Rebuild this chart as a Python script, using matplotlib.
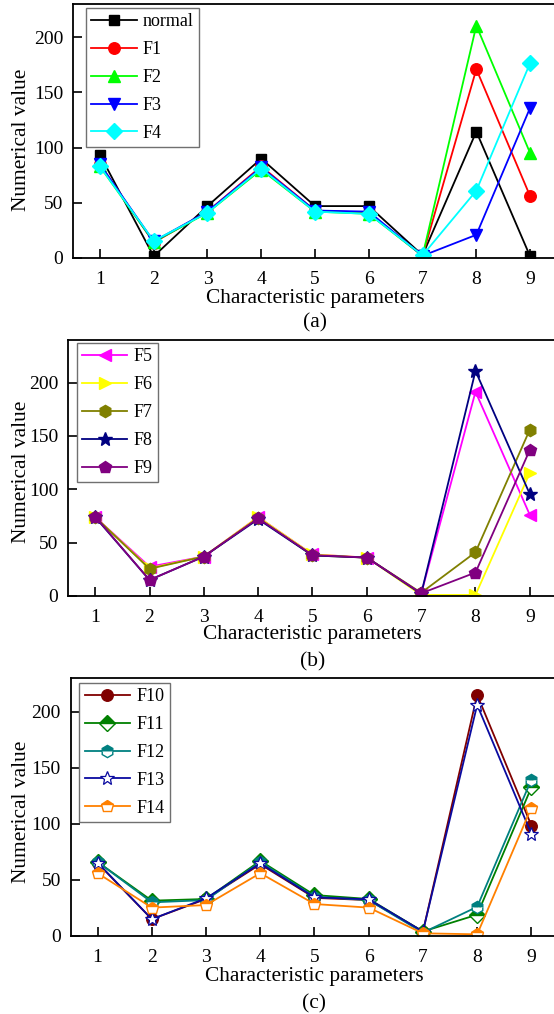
import matplotlib
matplotlib.use("Agg")
import matplotlib.pyplot as plt
from matplotlib.transforms import blended_transform_factory

plt.rcParams['font.family'] = ['Liberation Serif', 'DejaVu Serif']
plt.rcParams['font.size'] = 14

params = [1, 2, 3, 4, 5, 6, 7, 8, 9]
xtick_labels = ['1', '2', '3', '4', '5', '6', '7', '8', '9']
yticks = [0, 50, 100, 150, 200]

# Panel (a)
normal = [93.5, 1.5, 47, 90, 47, 47, 2.5, 114.5, 1.5]
f1 = [85, 14, 42, 83, 43, 41, 2, 171, 56]
f2 = [83, 14.5, 41, 80, 42, 40, 2, 210.5, 95]
f3 = [85, 15, 42, 82, 43, 42, 2, 21, 136]
f4 = [83, 15.5, 41, 81, 42, 40, 2.4, 61, 176.5]

# Panel (b)
f5 = [74, 27.5, 37, 74, 39, 36, 2, 191.5, 76]
f6 = [74, 26, 37, 74, 39, 36, 1, 1, 115.5]
f7 = [74, 25.5, 37, 73, 38, 36, 3, 41, 156]
f8 = [74, 15, 37, 72, 38, 36, 2, 211, 95.5]
f9 = [74.4, 15, 37, 72.8, 38.4, 36, 2.5, 22, 137]

# Panel (c)
f10 = [65, 15, 33, 64, 34, 32, 4, 215, 98.5]
f11 = [66, 31.5, 33, 67, 36.5, 33, 4, 19, 132.5]
f12 = [66, 30, 32, 66, 35, 32, 3, 26, 139.5]
f13 = [65.4, 15, 33.6, 64.8, 34.5, 32.7, 4, 206, 91]
f14 = [56, 25.3, 27.6, 56, 28.5, 25.3, 2.4, 1.5, 114.5]

W, H = 554, 1014
fig = plt.figure(figsize=(W / 100, H / 100), dpi=100)


def make_axes(left, top, bottom, right):
    return fig.add_axes([left / W, 1 - bottom / H, (right - left) / W, (bottom - top) / H])


def style(ax, ymax):
    ax.set_xlim(0.5, 9.5)
    ax.set_ylim(0, ymax)
    ax.set_xticks(params)
    ax.set_xticklabels(xtick_labels)
    ax.set_yticks(yticks)
    ax.tick_params(direction='in', length=6.5, width=1.2, labelsize=14)
    ax.tick_params(axis='x', pad=9)
    ax.tick_params(axis='y', pad=7)
    for s in ['left', 'bottom', 'top']:
        ax.spines[s].set_linewidth(1.3)
    ax.spines['right'].set_visible(False)


def labels(ax, letter, ylab_y, xl_y, let_y):
    tr = blended_transform_factory(ax.transData, ax.transAxes)
    ax.text(5, xl_y, 'Characteristic parameters', transform=tr, ha='center', va='center', fontsize=15.4)
    ax.text(5, let_y, letter, transform=tr, ha='center', va='center', fontsize=15.4)
    fig.text(22 / W, 1 - ylab_y / H, 'Numerical value', rotation=90, ha='center', va='center', fontsize=15.4)


def legend(ax, anchor):
    leg = ax.legend(loc='upper left', bbox_to_anchor=anchor, borderaxespad=0,
                    fancybox=False, framealpha=1, edgecolor='#707070',
                    handlelength=2.5, handletextpad=0.35, labelspacing=0.6,
                    borderpad=0.3, fontsize=13)
    leg.get_frame().set_linewidth(1.0)


lw = 1.3
ms = 8.3

# ---- (a)
axa = make_axes(73, 4, 258, 557)
style(axa, 230)
axa.plot(params, normal, color='black', marker='s', ms=7, lw=lw, label='normal')
axa.plot(params, f1, color='#FF0000', marker='o', ms=ms, lw=lw, label='F1')
axa.plot(params, f2, color='#00FF00', marker='^', ms=ms + 0.5, lw=lw, label='F2')
axa.plot(params, f3, color='#0000FF', marker='v', ms=ms + 0.5, lw=lw, label='F3')
axa.plot(params, f4, color='#00FFFF', marker='D', ms=ms - 0.5, lw=lw, label='F4')
legend(axa, (0.027, 0.984))
labels(axa, '(a)', 139.5, -0.161, -0.256)

# ---- (b)
axb = make_axes(68, 340, 596, 557)
style(axb, 240)
axb.plot(params, f5, color='#FF00FF', marker='<', ms=ms + 0.5, lw=lw, label='F5')
axb.plot(params, f6, color='#FFFF00', marker='>', ms=ms + 0.5, lw=lw, label='F6')
axb.plot(params, f7, color='#808000', marker='h', ms=ms + 0.5, lw=lw, label='F7')
axb.plot(params, f8, color='#000080', marker='*', ms=ms + 2, lw=lw, label='F8')
axb.plot(params, f9, color='#800080', marker='p', ms=ms + 0.5, lw=lw, label='F9')
legend(axb, (0.018, 0.988))
labels(axb, '(b)', 472, -0.152, -0.256)

# ---- (c)
axc = make_axes(70.5, 678, 936, 558.5)
style(axc, 230)
axc.plot(params, f10, color='#800000', marker='o', ms=ms, lw=lw, label='F10')
axc.plot(params, f11, color='#008000', marker='D', ms=ms - 0.5, lw=lw, fillstyle='top',
         markerfacecoloralt='white', label='F11')
axc.plot(params, f12, color='#008080', marker='h', ms=ms + 0.5, lw=lw, fillstyle='top',
         markerfacecoloralt='white', label='F12')
axc.plot(params, f13, color='#0A0AA0', marker='*', ms=ms + 2, lw=lw, markerfacecolor='white',
         markeredgewidth=0.9, label='F13')
axc.plot(params, f14, color='#FF8000', marker='p', ms=ms + 0.5, lw=lw, fillstyle='top',
         markerfacecoloralt='white', label='F14')
legend(axc, (0.018, 0.981))
labels(axc, '(c)', 812, -0.157, -0.262)

fig.savefig('out.png', dpi=100)
